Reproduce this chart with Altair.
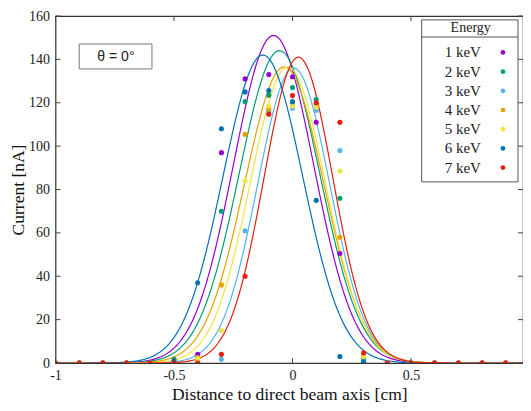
import altair as alt
import pandas as pd

# ---------------- data ----------------
energies = ["1 keV", "2 keV", "3 keV", "4 keV", "5 keV", "6 keV", "7 keV"]
colors = ["#9400d3", "#009e73", "#56b4e9", "#e69f00", "#f0e442", "#0072b2", "#e51e10"]

x_vals = [-1.0, -0.9, -0.8, -0.7, -0.6, -0.5, -0.4, -0.3, -0.2, -0.1, 0.0,
          0.1, 0.2, 0.3, 0.4, 0.5, 0.6, 0.7, 0.8, 0.9, 1.0]

cur_1kev = [0, 0, 0, 0, 0, 0, 4, 97, 131, 133, 132, 111, 50.5, 0, 0, 0, 0, 0, 0, 0, 0]
cur_2kev = [0, 0, 0, 0, 0, 1.7, 1, 70, 120.5, 123.5, 127, 121.5, 76, 1.7, 0, 0, 0, 0, 0, 0, 0]
cur_3kev = [0, 0, 0, 0, 0, 0, 0, 1.7, 61, 116, 117.5, 116.5, 98, 1, 0, 0, 0, 0, 0, 0, 0]
cur_4kev = [0, 0, 0, 0, 0, 0, 2.5, 36, 105.5, 117, 119.5, 119, 58, 3.8, 0, 0, 0, 0, 0, 0, 0]
cur_5kev = [0, 0, 0, 0, 0, 0, 2, 15, 84, 118.5, 118.5, 118, 88.5, 3, 0, 0, 0, 0, 0, 0, 0]
cur_6kev = [0, 0, 0, 0, 0, 0.8, 37, 108, 125, 125.6, 120.5, 75, 3, 0.5, 0, 0, 0, 0, 0, 0, 0]
cur_7kev = [0, 0, 0, 0, 0, 0, 0, 4, 40, 114.7, 123.3, 120, 111, 4.7, 0, 0, 0, 0, 0, 0, 0]
series = [cur_1kev, cur_2kev, cur_3kev, cur_4kev, cur_5kev, cur_6kev, cur_7kev]

# Gaussian fit parameters: amplitude, centre, sigma
fit_amp = [151, 144, 136, 136.5, 136.5, 142, 141]
fit_mu = [-0.08, -0.055, 0.005, -0.035, -0.02, -0.125, 0.025]
fit_sigma = [0.169, 0.170, 0.152, 0.167, 0.159, 0.168, 0.145]

x_ticks = [-1, -0.5, 0, 0.5, 1]
y_ticks = [0, 20, 40, 60, 80, 100, 120, 140, 160]

# visible part of the x range (the reference picture is cropped just before x = 1)
x_domain = [-1, 0.9726]

# ---------------- build tables ----------------
rows = []
for e, vals in zip(energies, series):
    for xv, yv in zip(x_vals, vals):
        rows.append({"energy": e, "x": xv, "y": yv})
points_df = pd.DataFrame(rows)

W, H = 467.5, 347
FONT = "Liberation Serif"

xs = alt.Scale(domain=x_domain, nice=False, zero=False)
ys = alt.Scale(domain=[0, 160], nice=False)
cs = alt.Scale(domain=energies, range=colors)

xlab = ("datum.value == 0 ? '0' : (datum.value < 0 ? '-' + format(-datum.value, '~g') "
        ": format(datum.value, '~g'))")

X = alt.X("x:Q", scale=xs, title="Distance to direct beam axis [cm]",
          axis=alt.Axis(values=x_ticks, labelExpr=xlab, ticks=False, domain=False,
                        grid=False, labelFlush=False, labelPadding=5, titlePadding=3,
                        labelFontSize=14, titleFontSize=17.5, labelFont=FONT, titleFont=FONT,
                        labelColor="#222", titleColor="#111", titleFontWeight="normal"))
Y = alt.Y("y:Q", scale=ys, title="Current [nA]",
          axis=alt.Axis(values=y_ticks, ticks=False, domain=False, grid=False,
                        labelFlush=False, labelPadding=6, titlePadding=1, labelFontSize=14,
                        titleFontSize=17.5, labelFont=FONT, titleFont=FONT,
                        labelColor="#222", titleColor="#111", titleFontWeight="normal"))

# fitted curves
curves = []
for e, col, a, m, s in zip(energies, colors, fit_amp, fit_mu, fit_sigma):
    c = (alt.Chart(alt.sequence(-1, 1.0001, 0.004, as_="x"))
         .transform_calculate(y=f"{a}*exp(-pow(datum.x-({m}),2)/(2*{s}*{s}))")
         .mark_line(strokeWidth=1.2, color=col, clip=True)
         .encode(x=X, y=Y))
    curves.append(c)

pts = (alt.Chart(points_df)
       .mark_circle(size=26, opacity=1, clip=True)
       .encode(x=X, y=Y,
               color=alt.Color("energy:N", scale=cs, legend=None),
               order=alt.Order("energy:N")))

# inward ticks (gnuplot style, mirrored)
yt = pd.DataFrame({"v": y_ticks})
xt = pd.DataFrame({"v": [v for v in x_ticks if v <= x_domain[1]]})
tick_col = "#444"
yt_left = alt.Chart(yt).mark_rule(color=tick_col, strokeWidth=1).encode(
    x=alt.value(0), x2=alt.value(5), y=alt.Y("v:Q", scale=ys))
yt_right = alt.Chart(yt).mark_rule(color=tick_col, strokeWidth=1).encode(
    x=alt.value(W - 5), x2=alt.value(W), y=alt.Y("v:Q", scale=ys))
xt_bot = alt.Chart(xt).mark_rule(color=tick_col, strokeWidth=1).encode(
    y=alt.value(H - 5), y2=alt.value(H), x=alt.X("v:Q", scale=xs))
xt_top = alt.Chart(xt).mark_rule(color=tick_col, strokeWidth=1).encode(
    y=alt.value(0), y2=alt.value(5), x=alt.X("v:Q", scale=xs))

# theta annotation box
theta_box = alt.Chart(pd.DataFrame({"x": [-0.90], "x2": [-0.593], "y": [147.1], "y2": [135.6]})).mark_rect(
    fill="white", stroke="#777", strokeWidth=1).encode(
    x=alt.X("x:Q", scale=xs), x2="x2:Q", y=alt.Y("y:Q", scale=ys), y2="y2:Q")
theta_txt = alt.Chart(pd.DataFrame({"x": [-0.745], "y": [141.3], "t": ["θ = 0°"]})).mark_text(
    font="Liberation Sans", fontSize=14, color="#222", align="center", baseline="middle").encode(
    x=alt.X("x:Q", scale=xs), y=alt.Y("y:Q", scale=ys), text="t:N")

# legend box (drawn by hand: labels left of symbols, header line)
leg_box = alt.Chart(pd.DataFrame({"x": [0.545], "x2": [0.9515], "y": [158.2], "y2": [83.5]})).mark_rect(
    fill="white", stroke="#555", strokeWidth=1).encode(
    x=alt.X("x:Q", scale=xs), x2="x2:Q", y=alt.Y("y:Q", scale=ys), y2="y2:Q")
leg_sep = alt.Chart(pd.DataFrame({"x": [0.545], "x2": [0.9515], "y": [150.3]})).mark_rule(
    color="#555", strokeWidth=1).encode(
    x=alt.X("x:Q", scale=xs), x2="x2:Q", y=alt.Y("y:Q", scale=ys))
leg_title = alt.Chart(pd.DataFrame({"x": [0.752], "y": [154.3], "t": ["Energy"]})).mark_text(
    font=FONT, fontSize=14, color="#222", align="center", baseline="middle").encode(
    x=alt.X("x:Q", scale=xs), y=alt.Y("y:Q", scale=ys), text="t:N")

leg_df = pd.DataFrame({"energy": energies,
                       "ly": [143.2 - 8.85 * i for i in range(len(energies))],
                       "lx": [0.795] * len(energies),
                       "dx": [0.888] * len(energies)})
leg_lab = alt.Chart(leg_df).mark_text(font=FONT, fontSize=15, color="#222",
                                      align="right", baseline="middle").encode(
    x=alt.X("lx:Q", scale=xs), y=alt.Y("ly:Q", scale=ys), text="energy:N")
leg_dot = alt.Chart(leg_df).mark_circle(size=22, opacity=1).encode(
    x=alt.X("dx:Q", scale=xs), y=alt.Y("ly:Q", scale=ys),
    color=alt.Color("energy:N", scale=cs, legend=None))

chart = alt.layer(
    *curves, pts, yt_left, yt_right, xt_bot, xt_top,
    theta_box, theta_txt, leg_box, leg_sep, leg_title, leg_lab, leg_dot
).properties(
    width=W, height=H,
    autosize=alt.AutoSizeParams(type="none"),
    padding={"left": 47.5, "top": 8, "right": 0, "bottom": 40},
    background="white",
).configure_view(
    stroke="#333", strokeWidth=1.2
)

chart.save("out.html", embed_options={"renderer": "svg", "actions": False})
